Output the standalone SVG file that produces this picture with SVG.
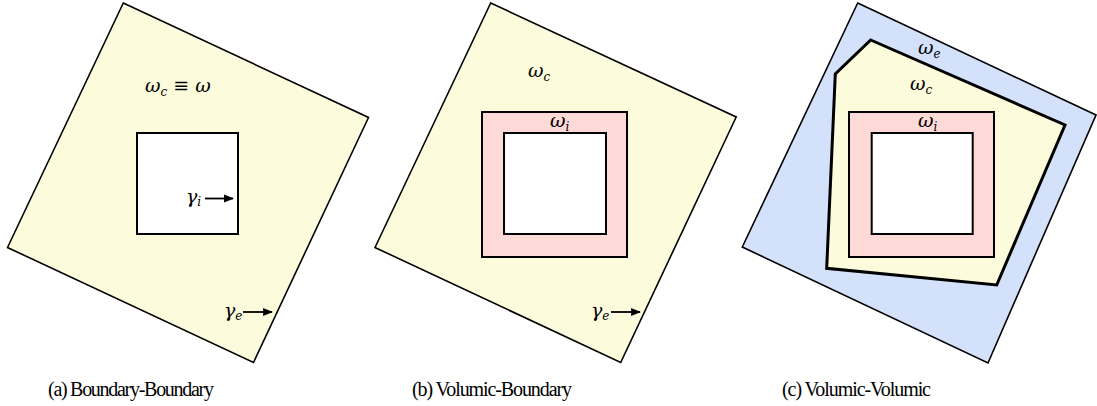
<svg xmlns="http://www.w3.org/2000/svg" width="1097" height="406" viewBox="0 0 1097 406">
<style>
.yel{fill:#fcfcdc;stroke:#000;stroke-width:1.6}
.blu{fill:#d4e1fb;stroke:#000;stroke-width:1.6}
.pnk{fill:#fdd9d8;stroke:#000;stroke-width:2}
.hole{fill:#ffffff;stroke:#000;stroke-width:2}
.thick{fill:#fcfcdc;stroke:#000;stroke-width:3;stroke-linejoin:miter}
.m{font-family:"DejaVu Serif","Liberation Serif",serif;font-style:italic;font-size:19px;fill:#000}
.s{font-size:12px}
.cap{font-family:"Liberation Serif",serif;font-size:20px;fill:#000}
.arr{stroke:#000;stroke-width:1.8;fill:none;marker-end:url(#ah)}
</style>
<defs>
<marker id="ah" viewBox="0 0 10 10" refX="9" refY="5" markerWidth="5.5" markerHeight="5.5" orient="auto" markerUnits="strokeWidth">
<path d="M0,1 L10,5 L0,9 z" fill="#000"/>
</marker>
</defs>
<g id="panel-a">
<polygon class="yel" points="123.3,3 368.5,117.5 253.5,362.5 7.5,247.5"/>
<rect class="hole" x="137" y="133" width="101" height="101"/>
<text class="m" x="145" y="92">ω<tspan class="s" dy="4">c</tspan><tspan dy="-4"> ≡ ω</tspan></text>
<text class="m" x="186" y="203">γ<tspan class="s" dy="3">i</tspan></text>
<text class="m" x="224" y="317">γ<tspan class="s" dy="3">e</tspan></text>
<text class="cap" x="48" y="396" textLength="166">(a) Boundary-Boundary</text>
</g>
<g id="panel-b">
<polygon class="yel" points="490.7,3 736.2,117 620.7,362.5 375,247.5"/>
<rect class="pnk" x="482" y="112" width="145" height="145"/>
<rect class="hole" x="504" y="133" width="102" height="101"/>
<text class="m" x="528" y="77">ω<tspan class="s" dy="4">c</tspan></text>
<text class="m" x="550" y="127">ω<tspan class="s" dy="4">i</tspan></text>
<text class="m" x="591" y="317">γ<tspan class="s" dy="3">e</tspan></text>
<text class="cap" x="412" y="396" textLength="160">(b) Volumic-Boundary</text>
</g>
<g id="panel-c">
<polygon class="blu" points="857.7,3 1096,115 988,363 742.3,247"/>
<polygon class="thick" points="870.7,40 1065,125 996.7,285 826.7,268.3 835.3,74"/>
<rect class="pnk" x="849" y="112" width="145" height="145"/>
<rect class="hole" x="871.7" y="133" width="101" height="101"/>
<text class="m" x="918" y="54">ω<tspan class="s" dy="4">e</tspan></text>
<text class="m" x="910" y="90">ω<tspan class="s" dy="4">c</tspan></text>
<text class="m" x="918" y="127">ω<tspan class="s" dy="4">i</tspan></text>
<text class="cap" x="782" y="396" textLength="149">(c) Volumic-Volumic</text>
</g>
<g id="connectors">
<line class="arr" x1="205" y1="198.5" x2="233" y2="198.5"/>
<line class="arr" x1="243" y1="312" x2="272" y2="312"/>
<line class="arr" x1="611" y1="312" x2="640" y2="312"/>
</g>
</svg>
